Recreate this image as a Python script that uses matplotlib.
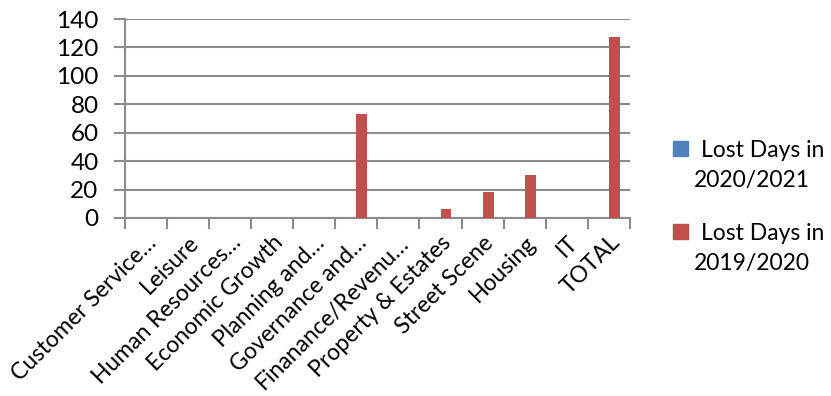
import numpy as np
import matplotlib.pyplot as plt
from matplotlib.patches import Rectangle

plt.rcParams['font.family'] = ['Lato', 'DejaVu Sans']

categories = ["Customer Service…", "Leisure", "Human Resources…", "Economic Growth",
              "Planning and…", "Governance and…", "Finanance/Revenu…", "Property & Estates",
              "Street Scene", "Housing", "IT", "TOTAL"]
days_2021 = [0, 0, 0, 0, 0, 0, 0, 0, 0, 0, 0, 0]
days_2020 = [0, 0, 0, 0, 0, 73, 0, 6, 18, 30, 0, 127]
series_names = [("Lost Days in", "2020/2021"), ("Lost Days in", "2019/2020")]
colors = ["#4F81BD", "#C0504D"]

W, H = 831, 396
fig = plt.figure(figsize=(W / 100, H / 100), dpi=100)
ax = fig.add_axes([0.1504, 0.4495, 0.6075, 0.5025])

x = np.arange(len(categories))
w = 0.26
ax.bar(x - w / 2, days_2021, w, color=colors[0], zorder=3)
ax.bar(x + w / 2, days_2020, w, color=colors[1], zorder=3)

ax.set_ylim(0, 140)
ax.set_xlim(-0.5, len(categories) - 0.5)
ax.set_yticks(range(0, 141, 20))
ax.yaxis.grid(True, color="#8c8c8c", lw=1.5, zorder=0)
for s in ["top", "right"]:
    ax.spines[s].set_visible(False)
for s in ["left", "bottom"]:
    ax.spines[s].set_color("#8c8c8c")
    ax.spines[s].set_linewidth(1.5)

ax.set_xticks(x)
ax.set_xticklabels(categories, rotation=45, ha="right", rotation_mode="anchor", fontsize=16.5)
ax.set_xticks(np.arange(-0.5, len(categories)), minor=True)
ax.tick_params(axis="x", which="major", length=0, pad=10)
ax.tick_params(axis="x", which="minor", length=8, width=1.5, color="#8c8c8c", direction="out")
ax.tick_params(axis="y", length=8, width=1.5, color="#8c8c8c", labelsize=17.5, pad=11)

# legend in Excel style: square next to first line, label wraps onto a second line
for i, (name, col) in enumerate(zip(series_names, colors)):
    top = 141 + i * 83
    fig.add_artist(Rectangle((673 / W, 1 - (top + 15) / H), 15 / W, 15 / H,
                             transform=fig.transFigure, color=col))
    fig.text(701 / W, 1 - (top + 16) / H, name[0], fontsize=16.5, va="baseline")
    fig.text(694 / W, 1 - (top + 46) / H, name[1], fontsize=16.5, va="baseline")

fig.savefig("out.png", dpi=100)
